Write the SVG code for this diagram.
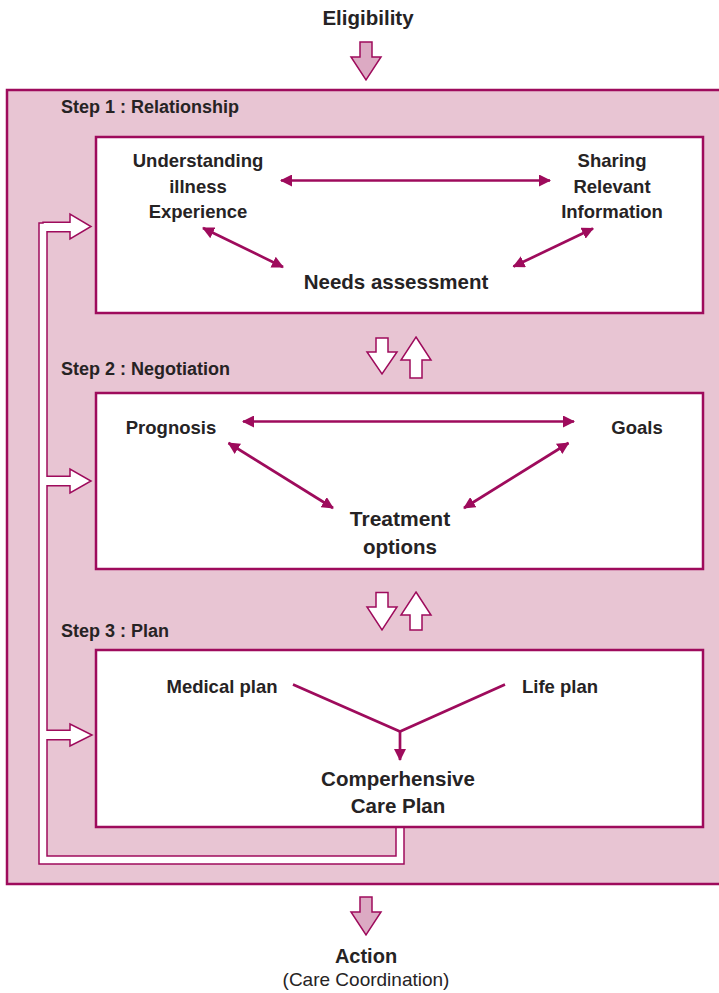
<svg xmlns="http://www.w3.org/2000/svg" width="719" height="993" viewBox="0 0 719 993">
<style>
text{font-family:"Liberation Sans",Arial,sans-serif;fill:#262324;font-weight:bold}
.c{text-anchor:middle}
.sm{font-size:18.5px}
.big{font-size:20.5px}
.step{font-size:18px}
.reg{font-weight:normal;font-size:19px}
.box{fill:#fff;stroke:#9e0b5c;stroke-width:2.5}
.conn{stroke:#9e0b5c;stroke-width:2.7;fill:none}
.blk{fill:#fff;stroke:#9e0b5c;stroke-width:1.5;stroke-linejoin:miter}
.pk{fill:#dcaac3;stroke:#9e0b5c;stroke-width:1.5}
</style>
<defs>
<marker id="ah" viewBox="0 0 12 12" refX="11" refY="6" markerWidth="12" markerHeight="12" markerUnits="userSpaceOnUse" orient="auto-start-reverse">
<path d="M0,0 L12,6 L0,12 z" fill="#9e0b5c"/>
</marker>
</defs>
<rect width="719" height="993" fill="#fff"/>
<g id="eligibility">
<text class="c" x="368" y="25" style="font-size:20.5px">Eligibility</text>
<polygon class="pk" points="360,42 372,42 372,57 381,57 366,80 351,57 360,57"/>
</g>
<g id="process">
<rect x="7" y="90" width="720" height="794" fill="#e8c5d3" stroke="#9e0b5c" stroke-width="2.5"/>
</g>
<g id="feedback">
<path d="M60 227 H43 V860 H400 V827" fill="none" stroke="#9e0b5c" stroke-width="9.5" stroke-linejoin="miter"/>
<polygon class="blk" points="43,222.25 70,222.25 70,214 91,226.5 70,239 70,231.75 43,231.75"/>
<polygon class="blk" points="43,476.25 70,476.25 70,469 91,481 70,493 70,485.75 43,485.75"/>
<polygon class="blk" points="43,730.25 70,730.25 70,724 92,735 70,746 70,739.75 43,739.75"/>
<path d="M60 227 H43 V860 H400 V827" fill="none" stroke="#fff" stroke-width="6.5" stroke-linejoin="miter"/>
</g>
<g id="step1">
<text class="step" x="61" y="113">Step 1 : Relationship</text>
<rect class="box" x="96" y="137" width="607" height="176"/>
<text class="c sm" x="198" y="167">Understanding</text>
<text class="c sm" x="198" y="193">illness</text>
<text class="c sm" x="198" y="218">Experience</text>
<text class="c sm" x="612" y="167">Sharing</text>
<text class="c sm" x="612" y="193">Relevant</text>
<text class="c sm" x="612" y="218">Information</text>
<text class="c big" x="396" y="289">Needs assessment</text>
</g>
<g id="step2">
<text class="step" x="61" y="375">Step 2 : Negotiation</text>
<rect class="box" x="96" y="393" width="607" height="176"/>
<text class="c sm" x="171" y="434">Prognosis</text>
<text class="c sm" x="637" y="434">Goals</text>
<text class="c big" x="400" y="526" style="font-size:21px">Treatment</text>
<text class="c big" x="400" y="554">options</text>
</g>
<g id="step3">
<text class="step" x="61" y="637">Step 3 : Plan</text>
<rect class="box" x="96" y="650" width="607" height="177"/>
<text class="c sm" x="222" y="693">Medical plan</text>
<text class="c sm" x="560" y="693">Life plan</text>
<text class="c big" x="398" y="786">Comperhensive</text>
<text class="c big" x="398" y="813">Care Plan</text>
</g>
<g id="action">
<polygon class="pk" points="360,897 372,897 372,912 381,912 366,935 351,912 360,912"/>
<text class="c" x="366" y="963" style="font-size:20px">Action</text>
<text class="c reg" x="366" y="986">(Care Coordination)</text>
</g>
<g id="connectors">
<line class="conn" x1="281" y1="180.5" x2="550" y2="180.5" marker-start="url(#ah)" marker-end="url(#ah)"/>
<line class="conn" x1="203" y1="228" x2="283" y2="267" marker-start="url(#ah)" marker-end="url(#ah)"/>
<line class="conn" x1="593" y1="228.5" x2="513.5" y2="266.5" marker-start="url(#ah)" marker-end="url(#ah)"/>
<line class="conn" x1="243" y1="421.5" x2="574" y2="421.5" marker-start="url(#ah)" marker-end="url(#ah)"/>
<line class="conn" x1="228.5" y1="443" x2="333" y2="508" marker-start="url(#ah)" marker-end="url(#ah)"/>
<line class="conn" x1="568.5" y1="443" x2="464" y2="508" marker-start="url(#ah)" marker-end="url(#ah)"/>
<polyline class="conn" points="293,684.5 400,731.5 505,684.5"/>
<line class="conn" x1="400" y1="731.5" x2="400" y2="760" marker-end="url(#ah)"/>
<polygon class="blk" points="376,338 388,338 388,352 397,352 382,374 367,352 376,352"/>
<polygon class="blk" points="416,337 431,360 422,360 422,378 410,378 410,360 401,360"/>
<polygon class="blk" points="376,592.5 388,592.5 388,607 397,607 382,630 367,607 376,607"/>
<polygon class="blk" points="416,592 431,615 422,615 422,630 410,630 410,615 401,615"/>
</g>
</svg>
